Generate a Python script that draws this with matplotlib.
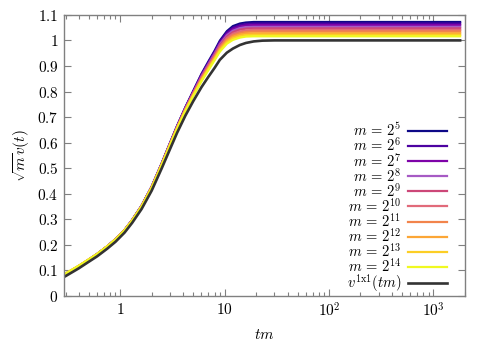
import matplotlib
matplotlib.use("Agg")
import matplotlib.pyplot as plt
from matplotlib.ticker import LogLocator, NullFormatter

plt.rcParams['mathtext.fontset'] = 'cm'
plt.rcParams['font.family'] = ['DejaVu Serif']

tm = [0.3, 0.35, 0.4, 0.5, 0.6, 0.75, 0.9, 1.1, 1.3, 1.6, 2, 2.5, 3, 3.5, 4.2,
      5, 6, 7, 8, 9, 10.5, 12, 14, 16, 19, 23, 30, 50, 100, 1800]

m5  = [.086, .102, .116, .142, .164, .194, .222, .258, .297, .353, .428, .520, .599, .665, .738,
       .802, .869, .918, .959, .999, 1.036, 1.056, 1.066, 1.070, 1.072, 1.072, 1.072, 1.072, 1.072, 1.072]
m6  = [.086, .102, .116, .142, .164, .194, .222, .258, .297, .353, .427, .519, .598, .664, .736,
       .800, .866, .914, .955, .994, 1.031, 1.050, 1.060, 1.064, 1.066, 1.066, 1.066, 1.066, 1.066, 1.066]
m7  = [.086, .102, .116, .142, .164, .194, .222, .258, .297, .352, .427, .518, .597, .663, .735,
       .798, .863, .910, .951, .989, 1.025, 1.044, 1.054, 1.058, 1.060, 1.060, 1.060, 1.060, 1.060, 1.060]
m8  = [.087, .103, .117, .142, .164, .194, .222, .258, .296, .352, .426, .518, .596, .661, .733,
       .795, .859, .907, .947, .985, 1.020, 1.038, 1.048, 1.052, 1.053, 1.053, 1.053, 1.053, 1.053, 1.053]
m9  = [.087, .103, .117, .142, .164, .194, .222, .258, .296, .352, .426, .517, .595, .660, .731,
       .793, .856, .903, .943, .980, 1.014, 1.032, 1.042, 1.046, 1.047, 1.047, 1.047, 1.047, 1.047, 1.047]
m10 = [.087, .103, .117, .143, .164, .194, .221, .257, .296, .351, .425, .516, .594, .659, .730,
       .791, .853, .899, .938, .975, 1.009, 1.026, 1.035, 1.039, 1.041, 1.041, 1.041, 1.041, 1.041, 1.041]
m11 = [.087, .103, .117, .143, .164, .194, .221, .257, .296, .351, .425, .515, .593, .658, .728,
       .789, .850, .895, .934, .970, 1.003, 1.020, 1.029, 1.033, 1.035, 1.035, 1.035, 1.035, 1.035, 1.035]
m12 = [.088, .104, .118, .143, .164, .194, .221, .257, .295, .351, .424, .515, .592, .656, .726,
       .786, .846, .892, .930, .966, .998, 1.014, 1.023, 1.027, 1.028, 1.028, 1.028, 1.028, 1.028, 1.028]
m13 = [.088, .104, .118, .143, .164, .194, .221, .257, .295, .350, .424, .514, .591, .655, .725,
       .784, .843, .888, .926, .961, .992, 1.008, 1.017, 1.021, 1.022, 1.022, 1.022, 1.022, 1.022, 1.022]
m14 = [.088, .104, .118, .143, .164, .194, .221, .257, .295, .350, .423, .513, .590, .654, .723,
       .782, .840, .884, .922, .956, .987, 1.002, 1.011, 1.015, 1.016, 1.016, 1.016, 1.016, 1.016, 1.016]
v1x1 = [.078, .094, .108, .134, .155, .185, .212, .248, .286, .340, .412, .500, .575, .638, .705,
        .762, .817, .858, .892, .924, .952, .968, .982, .990, .996, .999, 1.0, 1.0, 1.0, 1.0]

series = [m5, m6, m7, m8, m9, m10, m11, m12, m13, m14]
exponents = [5, 6, 7, 8, 9, 10, 11, 12, 13, 14]
colors = ['#0d0887', '#4c02a1', '#7e03a8', '#a65ac4', '#cc4778', '#e16a7a',
          '#f2844b', '#fca636', '#fcce25', '#f0f921']

yticks = [0, 0.1, 0.2, 0.3, 0.4, 0.5, 0.6, 0.7, 0.8, 0.9, 1.0, 1.1]
ytick_labels = ['$0$', '$0.1$', '$0.2$', '$0.3$', '$0.4$', '$0.5$', '$0.6$', '$0.7$',
                '$0.8$', '$0.9$', '$1$', '$1.1$']
xticks = [1, 10, 100, 1000]
xtick_labels = ['$1$', '$10$', '$10^2$', '$10^3$']

fig = plt.figure(figsize=(4.93, 3.45), dpi=100)
ax = fig.add_axes([0.130, 0.142, 0.813, 0.815])

for vals, e, c in zip(series, exponents, colors):
    ax.plot(tm, vals, color=c, lw=1.6, label='$m\\, =\\, 2^{%d}$' % e)
ax.plot(tm, v1x1, color='#333333', lw=1.9, label='$v^{\\mathrm{1x1}}(tm)$')

ax.set_xscale('log')
ax.set_xlim(0.29, 2000)
ax.set_ylim(0, 1.1)
ax.set_xticks(xticks)
ax.set_xticklabels(xtick_labels)
ax.xaxis.set_minor_locator(LogLocator(base=10, subs=range(2, 10)))
ax.xaxis.set_minor_formatter(NullFormatter())
ax.set_yticks(yticks)
ax.set_yticklabels(ytick_labels)

for s in ax.spines.values():
    s.set_color('#808080')
    s.set_linewidth(1.0)
ax.tick_params(which='both', direction='in', top=True, right=True, color='#808080',
               labelsize=11, labelcolor='black')
ax.tick_params(which='major', length=5, width=0.8, pad=4)
ax.tick_params(which='minor', length=3, width=0.8)

ax.set_xlabel('$tm$', fontsize=11, labelpad=6)
ax.set_ylabel('$\\sqrt{m}v(t)$', fontsize=11, labelpad=4)

leg = ax.legend(loc='lower right', bbox_to_anchor=(0.970, -0.014), frameon=False,
                markerfirst=False, fontsize=10.5, handlelength=2.7, handletextpad=0.45,
                labelspacing=-0.19, borderaxespad=0.0)

fig.savefig('out.png', dpi=100)
